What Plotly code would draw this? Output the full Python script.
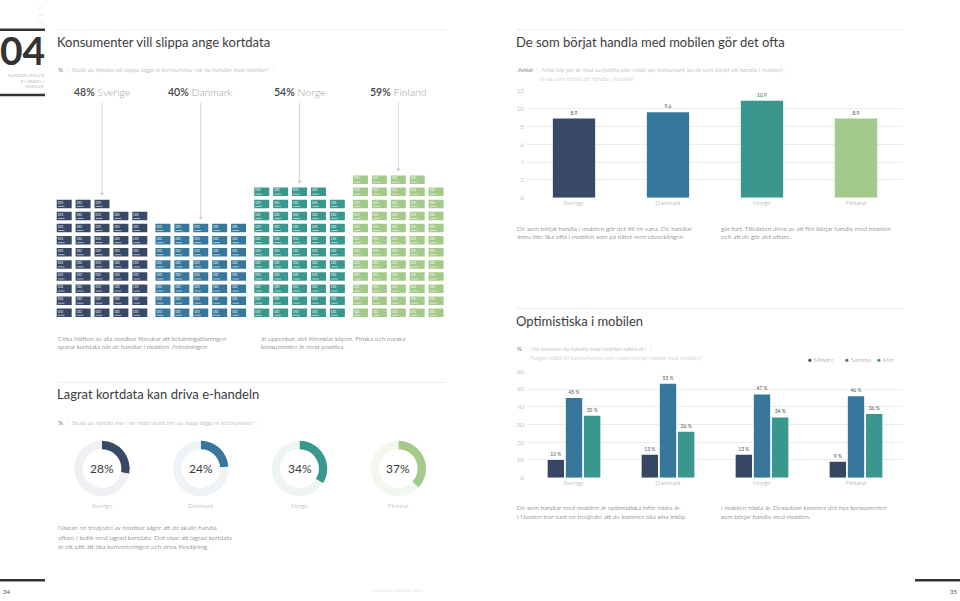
import plotly.graph_objects as go

W, H = 960, 601

# ---------------- data ----------------
countries = ["Sverige", "Danmark", "Norge", "Finland"]
kortdata_pct = [48, 40, 54, 59]          # waffle: föredrar att slippa lägga in kortnummer
lagrat_pct = [28, 24, 34, 37]            # donuts: skulle handla mer
kop_per_ar = [8.9, 9.6, 10.9, 8.9]       # bar chart 1
optim_labels = ["Mindre", "Samma", "Mer"]
optim_mindre = [10, 13, 13, 9]
optim_samma = [45, 53, 47, 46]
optim_mer = [35, 26, 34, 36]
y1_ticks = [0, 2, 4, 6, 8, 10, 12]
y2_ticks = [0, 10, 20, 30, 40, 50, 60]

# ---------------- style ----------------
colors = ["#384867", "#36779b", "#3a978d", "#a4ca8b"]
ring_bg = ["#eef0f4", "#edf3f7", "#edf5f4", "#f3f8ef"]
optim_colors = ["#374664", "#36779b", "#3a978d"]
FONT = "Lato"
C_TITLE = "#3c3c3c"
C_PARA = "#454545"
C_SUB = "#9c9c9c"
C_TICK = "#8e8e8e"
C_GRID = "#ececec"


def px(x):
    return x / W


def py(y):
    return 1 - y / H


annotations = []
shapes = []


def text(x, y, s, size, color=C_PARA, xanchor="left", yanchor="middle", family=FONT, weight=300):
    annotations.append(dict(x=px(x), y=py(y), xref="paper", yref="paper", text=s,
                            showarrow=False, xanchor=xanchor, yanchor=yanchor,
                            borderpad=0,
                            font=dict(size=size, color=color, family=family, weight=weight)))


def hline(x0, x1, y, color, width):
    shapes.append(dict(type="line", xref="paper", yref="paper", x0=px(x0), x1=px(x1),
                       y0=py(y), y1=py(y), line=dict(color=color, width=width)))


fig = go.Figure()

# ---------------- page furniture ----------------
hline(0, 45, 26, "#333333", 2.5)
hline(0, 45, 92, "#333333", 2.5)
hline(0, 45, 583, "#333333", 2.5)
hline(915, 960, 583, "#333333", 2.5)
hline(57, 445, 26, "#ececec", 1)
hline(516, 904, 26, "#ececec", 1)
hline(57, 445, 383, "#ececec", 1)
hline(516, 904, 308, "#ececec", 1)

for i, t in enumerate(["01", "02", "03"]):
    text(45, 4 + 7 * i, t, 4.5, "#dedede", xanchor="right")
text(-1, 47, "<b>04</b>", 39, "#333333", weight=700)
for i, t in enumerate(["NORDISK UTBLICK", "E-HANDEL I", "MOBILEN"]):
    text(45, 72.5 + 5.5 * i, t, 4.2, "#8a8a8a", xanchor="right")
text(2, 594, "34", 6, "#555555", weight=400)
text(958, 594, "35", 6, "#555555", xanchor="right", weight=400)
text(397, 593, "SVENSK E-HANDEL 2015", 4.5, "#d4d4d4", xanchor="center")

# ---------------- left page, section 1 ----------------
text(56, 38.5, "Konsumenter vill slippa ange kortdata", 13, C_TITLE, weight=400)
text(57, 66, "<b>%</b>  <span style='color:#d4d4d4'>|</span>  <i>Skulle du föredra att slippa lägga in kortnummer när du handlar med mobilen?</i>  <span style='color:#d4d4d4'>|</span>",
     6.3, C_SUB)

# waffle axis geometry (units: card slots / rows)
UNIT_X = 18.9
UNIT_Y = 12.25
GROUP = 5.226
x0_px, x1_px = 50, 450
card0_px = 64.2
row0_px = 312.5
yb_px, yt_px = 322, 80
xr = [-(card0_px - x0_px) / UNIT_X, -(card0_px - x0_px) / UNIT_X + (x1_px - x0_px) / UNIT_X]
yr = [-(yb_px - row0_px) / UNIT_Y, (row0_px - yt_px) / UNIT_Y]

cw, ch = 0.397, 0.35
tx, ty, lx0, ly = [], [], [], []
lead_x, lead_y, dot_x, dot_y = [], [], [], []
for g, (name, pct, col) in enumerate(zip(countries, kortdata_pct, colors)):
    full, rem = divmod(pct, 5)
    cells = [(c, r) for r in range(full) for c in range(5)] + [(c, full) for c in range(rem)]
    top = max(r for _, r in cells)
    for c, r in cells:
        cx = g * GROUP + c
        cy = r
        shapes.append(dict(type="rect", xref="x3", yref="y3", x0=cx - cw, x1=cx + cw,
                           y0=cy - ch, y1=cy + ch, fillcolor=col, line=dict(width=0),
                           layer="below"))
        tx.append(cx - 0.34)
        ty.append(cy + 0.12)
        lx0 += [cx - 0.33, cx + 0.02, None]
        ly += [cy - 0.2, cy - 0.2, None]
    gx = g * GROUP + 2
    y_start = (row0_px - 100) / UNIT_Y
    y_end = top + 0.86
    lead_x += [gx, gx, None]
    lead_y += [y_start, y_end, None]
    dot_x.append(gx)
    dot_y.append(y_end)
    annotations.append(dict(x=gx, y=(row0_px - 89) / UNIT_Y, xref="x3", yref="y3",
                            text=f"<span style='font-weight:600'>{pct}%</span> <span style='color:#a2a2a2'>{name}</span>",
                            showarrow=False, xanchor="center", yanchor="middle",
                            font=dict(size=10.5, color="#444444", family=FONT, weight=300)))

fig.add_trace(go.Scatter(x=lead_x, y=lead_y, mode="lines", line=dict(color="#d6d6d6", width=1),
                         xaxis="x3", yaxis="y3", hoverinfo="skip", showlegend=False))
fig.add_trace(go.Scatter(x=dot_x, y=dot_y, mode="markers", marker=dict(size=3, color="#cfcfcf"),
                         xaxis="x3", yaxis="y3", hoverinfo="skip", showlegend=False))
fig.add_trace(go.Scatter(x=tx, y=ty, mode="text", text=["00"] * len(tx), textposition="middle right",
                         textfont=dict(size=4.5, color="rgba(255,255,255,0.9)", family=FONT),
                         xaxis="x3", yaxis="y3", hoverinfo="skip", showlegend=False))
fig.add_trace(go.Scatter(x=lx0, y=ly, mode="lines", line=dict(color="rgba(255,255,255,0.75)", width=0.8),
                         xaxis="x3", yaxis="y3", hoverinfo="skip", showlegend=False))

text(57, 338.5, "Cirka hälften av alla nordbor föredrar att betalningslösningen", 6.5)
text(57, 347, "sparar kortdata när de handlar i mobilen. Anledningen", 6.5)
text(260, 338.5, "är uppenbar, det förenklar köpen. Finska och norska", 6.5)
text(260, 347, "konsumenter är mest positiva.", 6.5)

# ---------------- left page, section 2 (donuts) ----------------
text(56, 395, "Lagrat kortdata kan driva e-handeln", 13, C_TITLE, weight=400)
text(57, 423, "<b>%</b>  <span style='color:#d4d4d4'>|</span>  <i>Skulle du handla mer i en mobil butik om du slapp lägga in kortnummer?</i>  <span style='color:#d4d4d4'>|</span>",
     6.3, C_SUB)

R = 28
cy_px = 470
for g, (name, pct, col, bg) in enumerate(zip(countries, lagrat_pct, colors, ring_bg)):
    cx_px = card0_px + (g * GROUP + 2) * UNIT_X
    fig.add_trace(go.Pie(values=[pct, 100 - pct], marker=dict(colors=[col, bg], line=dict(width=0)),
                         hole=0.70, sort=False, direction="clockwise", rotation=0,
                         textinfo="none", hoverinfo="skip", showlegend=False,
                         domain=dict(x=[px(cx_px - R), px(cx_px + R)], y=[py(cy_px + R), py(cy_px - R)])))
    text(cx_px, cy_px, f"{pct}%", 12, "#3a3a3a", xanchor="center", weight=400)
    text(cx_px, 507, name, 6.5, "#9a9a9a", xanchor="center")

text(57, 530, "Nästan en tredjedel av nordbor säger att de skulle handla", 6.5)
text(57, 539.3, "oftare i butik med lagrad kortdata. Det visar att lagrad kortdata", 6.5)
text(57, 548.5, "är ett sätt att öka konverteringen och driva försäljning.", 6.5)

# ---------------- right page, chart 1 ----------------
text(515, 38.5, "De som börjat handla med mobilen gör det ofta", 13, C_TITLE, weight=400)
text(516, 66.5, "<b>Antal</b>  <span style='color:#d4d4d4'>|</span>  <i>Antal köp per år med surfplatta eller mobil per konsument (av de som börjat att handla i mobilen)</i>  <span style='color:#d4d4d4'>|</span>",
     6.2, C_SUB)
text(537, 75.5, "<i>Av de som börjat att handla i mobilen</i>", 6.2, "#b8b8b8")

fig.add_trace(go.Bar(x=countries, y=kop_per_ar, marker=dict(color=colors, line=dict(width=0)),
                     width=0.45, text=[f"{v:.1f}" for v in kop_per_ar], textposition="outside",
                     textfont=dict(size=5, color="#555555", family=FONT), cliponaxis=False,
                     xaxis="x", yaxis="y", hoverinfo="skip", showlegend=False))

text(516, 227, "De som börjat handla i mobilen gör det till en vana. De handlar", 6.5)
text(516, 235.5, "ännu inte lika ofta i mobilen som på nätet men utvecklingen", 6.5)
text(720, 227, "går fort. Tillväxten drivs av att fler börjar handla med mobilen", 6.5)
text(720, 235.5, "och att de gör det oftare.", 6.5)

# ---------------- right page, chart 2 ----------------
text(515, 320.5, "Optimistiska i mobilen", 13, C_TITLE, weight=400)
text(516, 348.3, "<b>%</b>  <span style='color:#d4d4d4'>|</span>  <i>Hur kommer du handla med mobilen nästa år?</i>  <span style='color:#d4d4d4'>|</span>",
     6.2, C_SUB)
text(529, 357.7, "<i>Frågan ställd till konsumenter som redan börjat handla med mobilen)</i>", 6.2, "#b8b8b8")

for lab, vals, col in zip(optim_labels, [optim_mindre, optim_samma, optim_mer], optim_colors):
    fig.add_trace(go.Bar(name=lab, x=countries, y=vals, marker=dict(color=col, line=dict(width=0)),
                         text=[f"{v} %" for v in vals], textposition="outside",
                         textfont=dict(size=5, color="#555555", family=FONT), cliponaxis=False,
                         xaxis="x2", yaxis="y2", hoverinfo="skip", showlegend=False))

leg_x = [810, 846.5, 879]
for lab, col, lxp in zip(optim_labels, optim_colors, leg_x):
    text(lxp - 3, 359.3, f"<span style='color:{col}'>●</span> {lab}", 6.5, "#7e7e7e")

text(516, 509.3, "De som handlar med mobilen är optimistiska inför nästa år.", 6.5)
text(516, 518.3, "I Norden tror runt en tredjedel att de kommer öka sina inköp", 6.5)
text(720, 509.3, "i mobilen nästa år. Dessutom kommer det nya konsumenter", 6.5)
text(720, 518.3, "som börjar handla med mobilen.", 6.5)

# ---------------- layout ----------------
axis_common = dict(showline=False, zeroline=False, ticks="", fixedrange=True)
tick_font = dict(size=6.5, color=C_TICK, family=FONT, weight=300)
fig.update_layout(
    width=W, height=H, autosize=False,
    margin=dict(l=0, r=0, t=0, b=0, pad=0),
    paper_bgcolor="white", plot_bgcolor="rgba(0,0,0,0)",
    font=dict(family=FONT, color=C_TICK),
    barmode="group", bargap=0.42, bargroupgap=0.1,
    xaxis=dict(domain=[px(527), px(903)], anchor="y", showgrid=False,
               tickfont=tick_font, **axis_common),
    yaxis=dict(domain=[py(196), py(88)], anchor="x", range=[0, 12], tickvals=y1_ticks,
               showgrid=True, gridcolor=C_GRID, gridwidth=1,
               tickfont=tick_font, ticklabelstandoff=2, **axis_common),
    xaxis2=dict(domain=[px(527), px(903)], anchor="y2", showgrid=False,
                tickfont=tick_font, **axis_common),
    yaxis2=dict(domain=[py(479.3), py(371.7)], anchor="x2", range=[0, 60], tickvals=y2_ticks,
                showgrid=True, gridcolor=C_GRID, gridwidth=1,
                tickfont=tick_font, ticklabelstandoff=2, **axis_common),
    xaxis3=dict(domain=[px(x0_px), px(x1_px)], anchor="y3", range=xr, visible=False, fixedrange=True),
    yaxis3=dict(domain=[py(yb_px), py(yt_px)], anchor="x3", range=yr, visible=False, fixedrange=True),
    annotations=annotations,
    shapes=shapes,
    showlegend=False,
)

fig.write_html("out.html", config={"displayModeBar": False, "responsive": False})
